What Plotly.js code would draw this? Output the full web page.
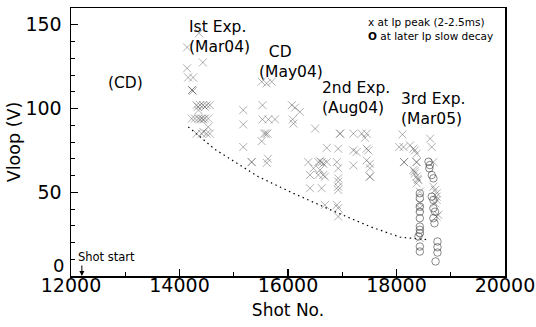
<!DOCTYPE html>
<html>
<head>
<meta charset="utf-8">
<script src="https://cdn.plot.ly/plotly-3.0.1.min.js"></script>
<style>html,body{margin:0;padding:0;background:#fff;}#chart{width:536px;height:327px;}</style>
</head>
<body>
<div id="chart"></div>
<script>
// "x" markers: Vloop at Ip peak (2-2.5 ms)
const peakShot = [
  // 1st Exp. (Mar04)
  14360,14140,14430,14140,14160,14250,14230,14250,14230,
  14315,14380,14435,14500,14560,14340,14470,14350,
  14225,14285,14345,14410,14470,14530,14380,14440,14530,
  14315,14410,14500,14560,14440,
  // CD (May04)
  15515,15605,15700,15175,15530,16070,16130,16220,15175,
  15530,15640,15760,16085,16100,16500,15560,15620,15590,
  15515,15175,15630,15610,15330,15330,
  // 2nd Exp. (Aug04)
  16960,16960,17205,17360,17450,17420,16715,16925,
  17205,17265,17450,17480,16375,16560,16620,16715,16900,16590,16650,
  16470,16590,16650,16680,16405,16560,16925,16925,16925,
  17205,17450,17510,17510,17510,17510,16405,16620,16925,16925,
  16680,16900,16925,16925,
  // 3rd Exp. (Mar05)
  18110,18620,18050,18130,18250,18310,18340,18370,18650,
  18140,18140,18370,18370,18680,
  18310,18340,18370,18400,18370,18330,18390,
  18680,18710,18740,18740,18710,18770,18740,18740,
  18430,18430,18430,18430
];
const peakVloop = [
  145,136.5,127.5,124,118.5,118.5,111,110.5,111,
  102,102,102,102,102,101,101,99,
  94,94,94,94,94,94,93.5,93.5,89,
  85,85,85,85,86,
  116,115,116,99,102,102,100.5,98,90.5,
  93.5,93.5,93.5,93.5,91,88,85,85,85,
  80.5,77,70,67.5,68,68,
  85,85,85,85,85,82.5,76.5,76,
  75,74,76,75,68,68,68,68,68,68.5,67,
  64.3,63.3,60.3,59.3,60.3,60.3,64.3,58.3,56.3,
  66,69,67,64.3,59.3,59.3,52.4,52.4,53.3,51.4,
  42.4,42.4,40.5,35.5,
  84.5,82,77,77,78,76,75,73,77,
  68,68,68,68,68,
  63.3,61.3,59.3,57.3,55.3,62.5,58,
  53.3,51.4,49.4,45.4,43.4,36.5,35.5,47.4,
  50.4,43.4,40.5,22.6
];

// "O" markers: Vloop at later Ip slow decay
const decayShot = [
  18430,18430,18430,18430,18430,18430,18430,18430,18405,18430,18430,
  18590,18615,18605,18650,18680,18650,18680,18680,18710,18680,18700,
  18755,18755,18755,18720
];
const decayVloop = [
  49.4,46.4,41.4,38.4,34.5,29.5,27.6,25.6,23.6,17.6,14.6,
  68.2,66.2,64.3,60.3,58.3,47.4,45.4,40.5,38.4,34.5,31.5,
  20.6,17.2,14,8.7
];

// dotted guide curve (lower envelope of Vloop)
const guideShot = [14162,14654,15115,15452,16097,16713,17513,18064,18560];
const guideVloop = [89,75.6,66.2,59.3,49.4,40.5,29.5,23.2,21.7];

const xTickVals = [12000,14000,16000,18000,20000];
const xTickText = ['12000','14000','16000','18000','20000'];
const yTickVals = [0,50,100,150];
const yTickText = ['','50','100','150'];   // "0" is drawn a little higher, as in the original

const labels = [
  {text:'Ist Exp.<br>(Mar04)', x:14138, y:142.7},
  {text:'(CD)', x:12645, y:115},
  {text:'&nbsp;&nbsp;CD<br>(May04)', x:15428, y:127.8},
  {text:'2nd Exp.<br>(Aug04)', x:16590, y:106.4},
  {text:'3rd Exp.<br>(Mar05)', x:18045, y:99.9}
];

const FONT = 'DejaVu Sans';

const traces = [
  {
    x: guideShot, y: guideVloop, mode: 'lines', type: 'scatter',
    line: {color: '#000', width: 1.2, dash: '1.5px,3.5px'}, hoverinfo: 'skip'
  },
  {
    x: peakShot, y: peakVloop, mode: 'markers', type: 'scatter',
    marker: {symbol: 'x-thin-open', size: 8, color: 'rgba(70,70,70,0.42)', line: {width: 1}}
  },
  {
    x: decayShot, y: decayVloop, mode: 'markers', type: 'scatter',
    marker: {symbol: 'circle-open', size: 7.5, color: 'rgba(60,60,60,0.6)', line: {width: 1}}
  }
];

const annotations = labels.map(l => ({
  text: l.text, x: l.x, y: l.y, xref: 'x', yref: 'y', showarrow: false, align: 'left',
  xanchor: 'left', yanchor: 'middle', font: {family: FONT, size: 15.5, color: '#000'}
}));

annotations.push(
  {text: 'x at Ip peak (2-2.5ms)', x: 17438, y: 151.8, xref: 'x', yref: 'y', showarrow: false,
   xanchor: 'left', yanchor: 'middle', font: {family: FONT, size: 10.5, color: '#000'}},
  {text: '<b>O</b> at later Ip slow decay', x: 17438, y: 143.3, xref: 'x', yref: 'y', showarrow: false,
   xanchor: 'left', yanchor: 'middle', font: {family: FONT, size: 10.5, color: '#000'}},
  {text: 'Shot start', x: 12092, y: 11.6, xref: 'x', yref: 'y', showarrow: false,
   xanchor: 'left', yanchor: 'middle', font: {family: FONT, size: 11.5, color: '#000'}},
  {text: '0', x: 0, y: 0, xref: 'paper', yref: 'y', xanchor: 'right', yanchor: 'middle',
   xshift: -5, yshift: 11, showarrow: false, font: {family: FONT, size: 18, color: '#000'}},
  {text: '', x: 12200, y: 0, xref: 'x', yref: 'y', showarrow: true, ax: 0, ay: -12,
   arrowhead: 2, arrowsize: 1, arrowwidth: 1, arrowcolor: '#000', standoff: 0},
  {text: '', x: 18610, y: 21.5, xref: 'x', yref: 'y', axref: 'x', ayref: 'y', ax: 18560, ay: 21.7,
   showarrow: true, arrowhead: 2, arrowsize: 1.3, arrowwidth: 1.2, arrowcolor: '#000', standoff: 0}
);

const layout = {
  width: 536, height: 327,
  margin: {l: 71, r: 31, t: 8, b: 51},
  paper_bgcolor: '#fff', plot_bgcolor: '#fff',
  showlegend: false,
  font: {family: FONT, color: '#000'},
  xaxis: {
    range: [12000, 20000], tickmode: 'array', tickvals: xTickVals, ticktext: xTickText,
    ticks: 'inside', ticklen: 7, tickwidth: 1.2, tickcolor: '#000', ticklabelstandoff: -8,
    minor: {dtick: 1000, tick0: 12000, ticks: 'inside', ticklen: 4, tickwidth: 1, tickcolor: '#000'},
    showline: true, linecolor: '#000', linewidth: 1.5, mirror: true,
    showgrid: false, zeroline: false,
    tickfont: {family: FONT, size: 19, color: '#000'},
    title: {text: 'Shot No.', font: {family: FONT, size: 17, color: '#000'}, standoff: 9}
  },
  yaxis: {
    range: [0, 160], tickmode: 'array', tickvals: yTickVals, ticktext: yTickText,
    ticks: 'inside', ticklen: 7, tickwidth: 1.2, tickcolor: '#000', ticklabelstandoff: 4,
    minor: {dtick: 10, tick0: 0, ticks: 'inside', ticklen: 4, tickwidth: 1, tickcolor: '#000'},
    showline: true, linecolor: '#000', linewidth: 1.5, mirror: true,
    showgrid: false, zeroline: false,
    tickfont: {family: FONT, size: 19, color: '#000'},
    title: {text: 'Vloop (V)', font: {family: FONT, size: 17.5, color: '#000'}, standoff: 0}
  },
  annotations: annotations
};

Plotly.newPlot('chart', traces, layout, {displayModeBar: false, staticPlot: true});
</script>
</body>
</html>
